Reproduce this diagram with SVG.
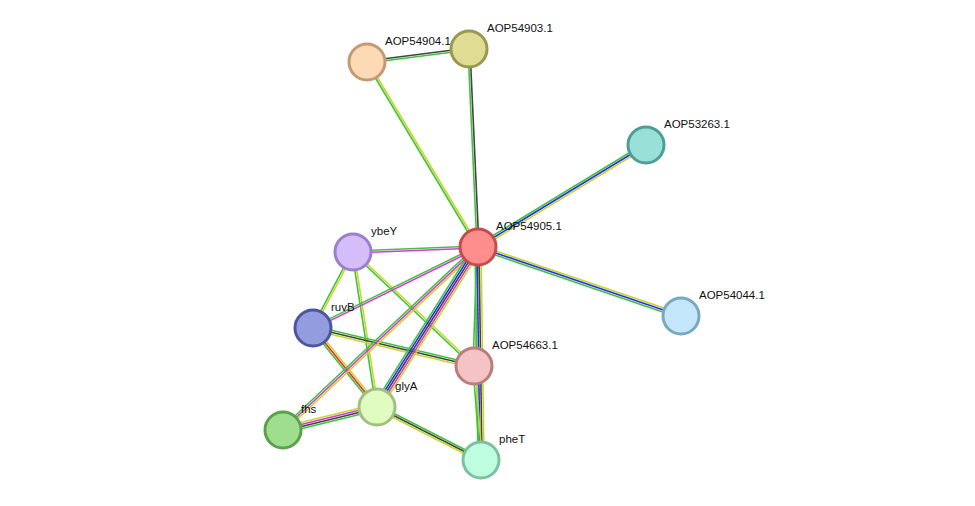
<svg xmlns="http://www.w3.org/2000/svg" width="975" height="506" viewBox="0 0 975 506">
<style>
line{stroke-width:1.6;fill:none}
.g{stroke:#3fc43f}.y{stroke:#c8d62c}.k{stroke:#444}.b{stroke:#2d2df0}.m{stroke:#d63ad6}.r{stroke:#ee2b2b}
circle{stroke-width:3}
text{font-family:"Liberation Sans",Arial,sans-serif;font-size:11.5px;fill:#111}
</style>
<rect width="975" height="506" fill="#fff"/>
<g id="edges">
<line class="g" x1="367.13" y1="62.99" x2="469.13" y2="49.99"/><line class="k" x1="366.87" y1="61.01" x2="468.87" y2="48.01"/>
<line class="g" x1="366.14" y1="62.51" x2="477.14" y2="247.51"/><line class="y" x1="367.86" y1="61.49" x2="478.86" y2="246.49"/>
<line class="g" x1="468" y1="49.05" x2="477" y2="247.05"/><line class="k" x1="470" y1="48.95" x2="479" y2="246.95"/>
<line class="y" x1="647.04" y1="146.71" x2="479.04" y2="248.71"/><line class="b" x1="646" y1="145" x2="478" y2="247"/><line class="g" x1="644.96" y1="143.29" x2="476.96" y2="245.29"/>
<line class="y" x1="681.64" y1="314.11" x2="478.64" y2="245.11"/><line class="b" x1="681" y1="316" x2="478" y2="247"/><line class="g" x1="680.36" y1="317.89" x2="477.36" y2="248.89"/>
<line class="g" x1="352.96" y1="251" x2="477.96" y2="246"/><line class="m" x1="353.04" y1="253" x2="478.04" y2="248"/>
<line class="g" x1="352.12" y1="251.53" x2="312.12" y2="327.53"/><line class="y" x1="353.88" y1="252.47" x2="313.88" y2="328.47"/>
<line class="g" x1="352.01" y1="252.15" x2="376.01" y2="407.15"/><line class="y" x1="353.99" y1="251.85" x2="377.99" y2="406.85"/>
<line class="g" x1="352.31" y1="252.73" x2="473.31" y2="366.73"/><line class="y" x1="353.69" y1="251.27" x2="474.69" y2="365.27"/>
<line class="g" x1="312.56" y1="327.1" x2="477.56" y2="246.1"/><line class="m" x1="313.44" y1="328.9" x2="478.44" y2="247.9"/>
<line class="g" x1="313.46" y1="326.05" x2="474.46" y2="364.05"/><line class="k" x1="313" y1="328" x2="474" y2="366"/><line class="y" x1="312.54" y1="329.95" x2="473.54" y2="367.95"/>
<line class="g" x1="311.45" y1="329.26" x2="375.45" y2="408.26"/><line class="r" x1="313" y1="328" x2="377" y2="407"/><line class="y" x1="314.55" y1="326.74" x2="378.55" y2="405.74"/>
<line class="g" x1="281.63" y1="428.54" x2="476.63" y2="245.54"/><line class="m" x1="283" y1="430" x2="478" y2="247"/><line class="y" x1="284.37" y1="431.46" x2="479.37" y2="248.46"/>
<line class="g" x1="373.62" y1="404.86" x2="474.62" y2="244.86"/><line class="b" x1="375.31" y1="405.93" x2="476.31" y2="245.93"/><line class="k" x1="377" y1="407" x2="478" y2="247"/><line class="m" x1="378.69" y1="408.07" x2="479.69" y2="248.07"/><line class="y" x1="380.38" y1="409.14" x2="481.38" y2="249.14"/>
<line class="g" x1="473" y1="365.97" x2="477" y2="246.97"/><line class="y" x1="475" y1="366.03" x2="479" y2="247.03"/>
<line class="g" x1="478" y1="460.04" x2="475" y2="247.04"/><line class="b" x1="480" y1="460.01" x2="477" y2="247.01"/><line class="k" x1="482" y1="459.99" x2="479" y2="246.99"/><line class="y" x1="484" y1="459.96" x2="481" y2="246.96"/>
<line class="g" x1="473" y1="366.07" x2="480" y2="460.07"/><line class="y" x1="475" y1="365.93" x2="482" y2="459.93"/>
<line class="y" x1="282.29" y1="427.09" x2="376.29" y2="404.09"/><line class="m" x1="282.76" y1="429.03" x2="376.76" y2="406.03"/><line class="k" x1="283.24" y1="430.97" x2="377.24" y2="407.97"/><line class="g" x1="283.71" y1="432.91" x2="377.71" y2="409.91"/>
<line class="g" x1="377.91" y1="405.22" x2="481.91" y2="458.22"/><line class="k" x1="377" y1="407" x2="481" y2="460"/><line class="y" x1="376.09" y1="408.78" x2="480.09" y2="461.78"/>
</g>
<g id="AOP54904.1"><circle cx="367" cy="62" r="18" fill="#fdd9b5" stroke="#c49a72"/><text x="385" y="45">AOP54904.1</text></g>
<g id="AOP54903.1"><circle cx="469" cy="49" r="18" fill="#dfdc94" stroke="#9a9850"/><text x="487" y="32">AOP54903.1</text></g>
<g id="AOP53263.1"><circle cx="646" cy="145" r="18" fill="#99e0d8" stroke="#4d9e96"/><text x="664" y="128">AOP53263.1</text></g>
<g id="AOP54905.1"><circle cx="478" cy="247" r="18" fill="#fe8e8e" stroke="#c44c4c"/><text x="496" y="230">AOP54905.1</text></g>
<g id="ybeY"><circle cx="353" cy="252" r="18" fill="#d4bdf9" stroke="#9a7fcc"/><text x="371" y="235">ybeY</text></g>
<g id="AOP54044.1"><circle cx="681" cy="316" r="18" fill="#c3e6fa" stroke="#7aa8c0"/><text x="699" y="299">AOP54044.1</text></g>
<g id="ruvB"><circle cx="313" cy="328" r="18" fill="#949ce0" stroke="#4d559e"/><text x="331" y="311">ruvB</text></g>
<g id="AOP54663.1"><circle cx="474" cy="366" r="18" fill="#f5c3c3" stroke="#b87e7e"/><text x="492" y="349">AOP54663.1</text></g>
<g id="glyA"><circle cx="377" cy="407" r="18" fill="#e0fcc0" stroke="#9fc07e"/><text x="395" y="390">glyA</text></g>
<g id="fhs"><circle cx="283" cy="430" r="18" fill="#9fde8f" stroke="#5ca04c"/><text x="301" y="413">fhs</text></g>
<g id="pheT"><circle cx="481" cy="460" r="18" fill="#bffde0" stroke="#7cc09e"/><text x="499" y="443">pheT</text></g>
</svg>
